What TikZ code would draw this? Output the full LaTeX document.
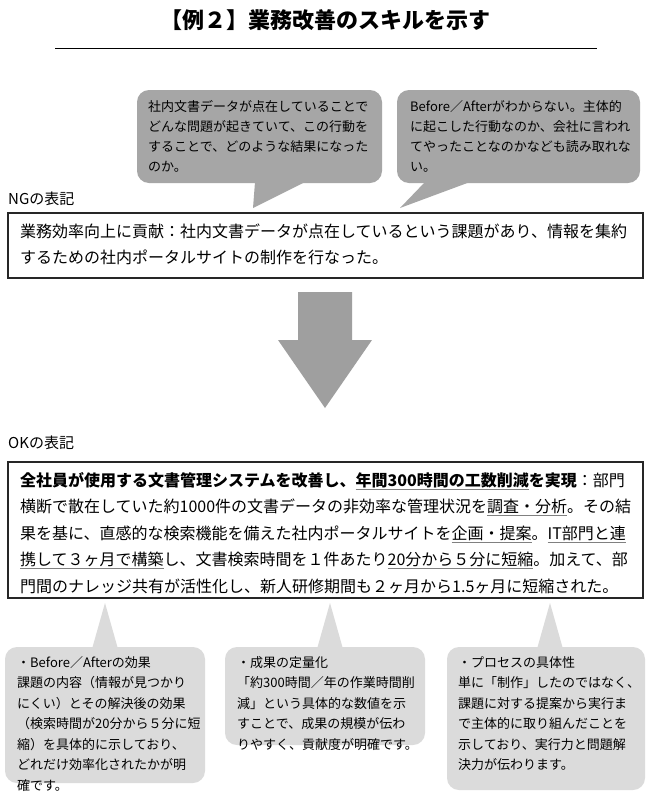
\documentclass[tikz,border=0pt]{standalone}
\usepackage{fontspec}
\setmainfont{Noto Sans CJK JP}
\newsavebox{\ulbox}
\newcommand{\ul}[1]{\sbox{\ulbox}{#1}\rlap{\color{gray}\rule[-3.5pt]{\wd\ulbox}{0.9pt}}\usebox{\ulbox}}
\begin{document}
\begin{tikzpicture}[x=1pt,y=-1pt,
  topcall/.style={fill=gray!70,rounded corners=12pt,inner sep=0pt},
  botcall/.style={fill=gray!28,rounded corners=12pt,inner sep=0pt},
  frame/.style={draw=black!85,line width=1.3pt},
  txt/.style={anchor=north west,inner sep=0pt,align=left}]
\useasboundingbox (0,0) rectangle (650,801);
\fill[white] (0,0) rectangle (650,801);
% title
\node (title) at (325,20) {\fontsize{22}{26}\selectfont\bfseries 【例２】業務改善のスキルを示す};
\draw[line width=1pt] (55,48) -- (597,48);
% top callouts
\fill[topcall] (137,90) rectangle (382,183);
\fill[gray!70] (255,182) -- (305,182) -- (253,208) -- cycle;
\fill[topcall] (397,90) rectangle (640,183);
\fill[gray!70] (425,182) -- (470,182) -- (400,208) -- cycle;
\node[txt,font=\fontsize{13}{20}\selectfont] (c1) at (148,100) {社内文書データが点在していることで\\どんな問題が起きていて、この行動を\\することで、どのような結果になった\\のか。};
\node[txt,font=\fontsize{13}{20}\selectfont] (c2) at (410,100) {Before／Afterがわからない。主体的\\に起こした行動なのか、会社に言われ\\てやったことなのかなども読み取れな\\い。};
% NG
\node[anchor=west,inner sep=0pt] (ng) at (8,199) {\fontsize{15}{18}\selectfont NGの表記};
\draw[frame] (8,213) rectangle (643,278);
\node[txt,font=\fontsize{16}{26}\selectfont] (ngt) at (20,224) {業務効率向上に貢献：社内文書データが点在しているという課題があり、情報を集約\\するための社内ポータルサイトの制作を行なった。};
% arrow
\fill[gray!75] (298,292) -- (352,292) -- (352,340) -- (372,340) -- (325,408) -- (278,340) -- (298,340) -- cycle;
% OK
\node[anchor=west,inner sep=0pt] (ok) at (8,443) {\fontsize{15}{18}\selectfont OKの表記};
\draw[frame] (8,462) rectangle (643,598);
\node[txt,font=\fontsize{16}{26.5}\selectfont] (okt) at (20,472) {{\bfseries 全社員が使用する文書管理システムを改善し、\ul{年間300時間の工数削減}を実現}：部門\\横断で散在していた約1000件の文書データの非効率な管理状況を\ul{調査・分析}。その結\\果を基に、直感的な検索機能を備えた社内ポータルサイトを\ul{企画・提案}。\ul{IT部門と連}\\\ul{携して３ヶ月で構築}し、文書検索時間を１件あたり\ul{20分から５分に短縮}。加えて、部\\門間のナレッジ共有が活性化し、新人研修期間も２ヶ月から1.5ヶ月に短縮された。};
% bottom callouts
\fill[gray!28] (92,649) -- (118,649) -- (105,603) -- cycle;
\fill[botcall] (5,647) rectangle (205,783);
\fill[gray!28] (317,649) -- (343,649) -- (330,603) -- cycle;
\fill[botcall] (225,647) rectangle (425,745);
\fill[gray!28] (537,649) -- (563,649) -- (550,603) -- cycle;
\fill[botcall] (447,647) rectangle (645,790);
\node[txt,font=\fontsize{13}{20.5}\selectfont] (b1) at (17,656) {・Before／Afterの効果\\課題の内容（情報が見つかり\\にくい）とその解決後の効果\\（検索時間が20分から５分に短\\縮）を具体的に示しており、\\どれだけ効率化されたかが明\\確です。};
\node[txt,font=\fontsize{13}{20.5}\selectfont] (b2) at (237,656) {・成果の定量化\\「約300時間／年の作業時間削\\減」という具体的な数値を示\\すことで、成果の規模が伝わ\\りやすく、貢献度が明確です。};
\node[txt,font=\fontsize{13}{20.5}\selectfont] (b3) at (458,656) {・プロセスの具体性\\単に「制作」したのではなく、\\課題に対する提案から実行ま\\で主体的に取り組んだことを\\示しており、実行力と問題解\\決力が伝わります。};
\end{tikzpicture}
\end{document}
